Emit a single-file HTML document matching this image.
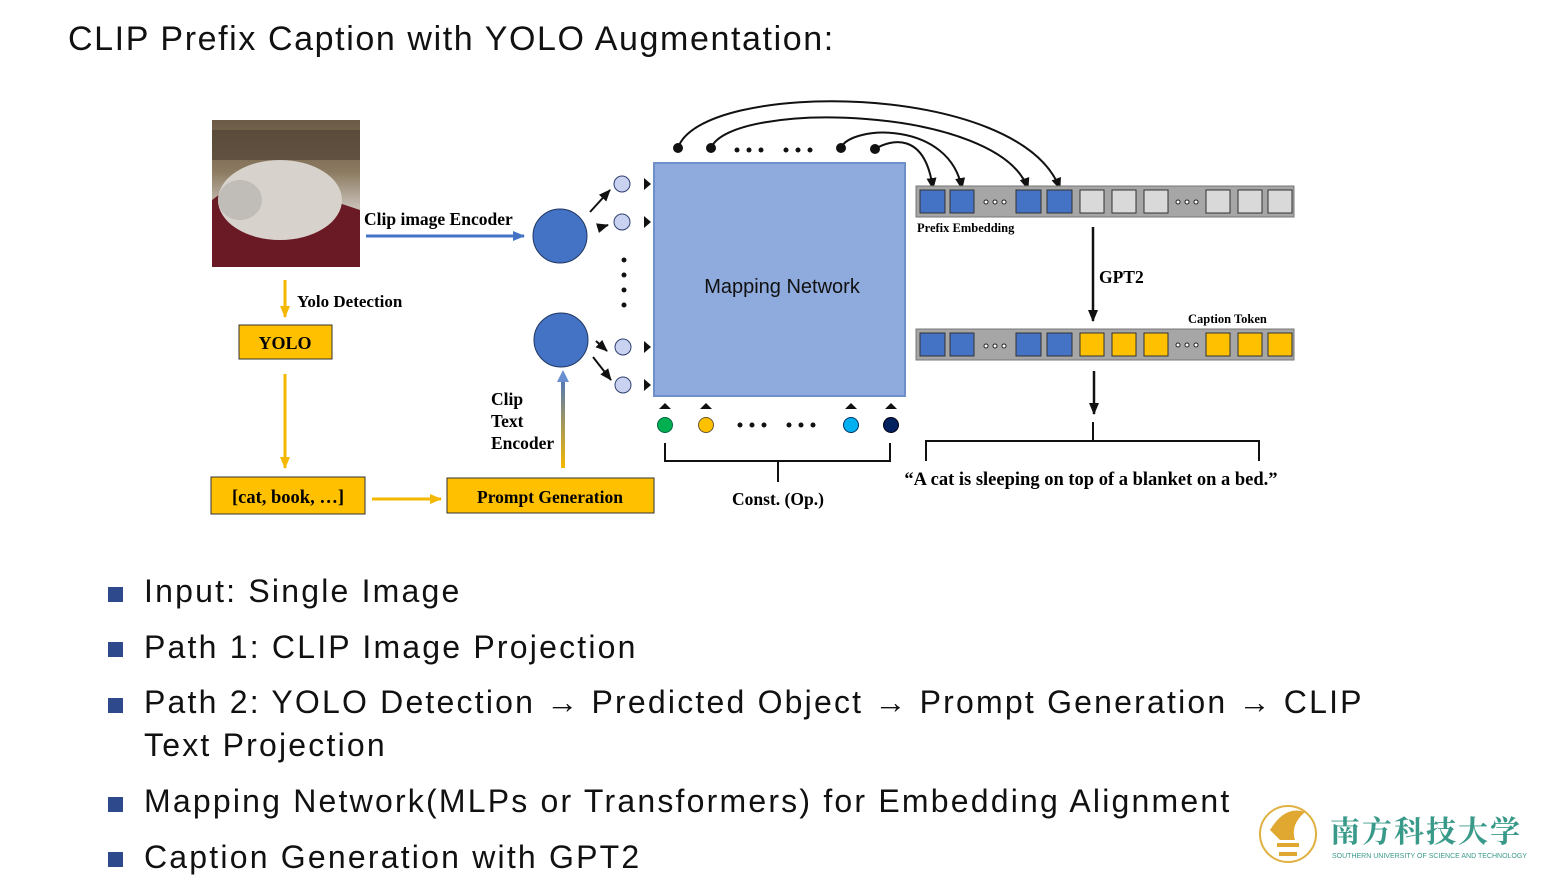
<!DOCTYPE html>
<html><head><meta charset="utf-8"><style>
body{margin:0;background:#fff;width:1549px;height:883px;overflow:hidden;position:relative;font-family:"Liberation Sans",sans-serif}
.t{position:absolute;left:68px;top:20px;font-size:34px;color:#111;letter-spacing:1.6px;word-spacing:0px}
.b{position:absolute;left:144px;font-size:32px;color:#111;line-height:43px;letter-spacing:2.2px;word-spacing:0px}
.sq{position:absolute;left:108px;width:15px;height:15px;background:#2e4a8c}
</style></head><body>
<div class="t">CLIP Prefix Caption with YOLO Augmentation:</div>
<svg width="1549" height="883" style="position:absolute;left:0;top:0" font-family="Liberation Serif,serif" font-weight="bold">
<defs>
<marker id="ab" markerUnits="userSpaceOnUse" markerWidth="12" markerHeight="12" refX="11" refY="6" orient="auto"><path d="M0,1L12,6L0,11z" fill="#111"/></marker>
<marker id="ay" markerUnits="userSpaceOnUse" markerWidth="12" markerHeight="12" refX="11" refY="6" orient="auto"><path d="M0,1L12,6L0,11z" fill="#f5b800"/></marker>
<marker id="abl" markerUnits="userSpaceOnUse" markerWidth="12" markerHeight="12" refX="11" refY="6" orient="auto"><path d="M0,1L12,6L0,11z" fill="#4472c4"/></marker>
<linearGradient id="g" gradientUnits="userSpaceOnUse" x1="0" y1="468" x2="0" y2="372"><stop offset="0" stop-color="#f5b800"/><stop offset="1" stop-color="#4472c4"/></linearGradient>
<linearGradient id="cat" x1="0" y1="0" x2="0" y2="1"><stop offset="0" stop-color="#6b5a45"/><stop offset="0.35" stop-color="#8b7a60"/><stop offset="0.6" stop-color="#c8c0b8"/><stop offset="1" stop-color="#5a1420"/></linearGradient>
</defs>
<rect x="212" y="120" width="148" height="147" fill="url(#cat)"/>
<rect x="212" y="130" width="148" height="30" fill="#4a3c30" opacity="0.6"/>
<path d="M212,200 Q250,170 300,190 L360,210 L360,267 L212,267z" fill="#6a1a24"/>
<ellipse cx="280" cy="200" rx="62" ry="40" fill="#d8d2cc"/>
<ellipse cx="240" cy="200" rx="22" ry="20" fill="#c0bcb8"/>
<text x="364" y="225" font-size="17.5">Clip image Encoder</text>
<line x1="366" y1="236" x2="524" y2="236" stroke="#4472c4" stroke-width="3" marker-end="url(#abl)"/>
<line x1="285" y1="280" x2="285" y2="317" stroke="#f5b800" stroke-width="3" marker-end="url(#ay)"/>
<text x="297" y="307" font-size="17">Yolo Detection</text>
<rect x="239" y="325" width="93" height="34" fill="#ffc000" stroke="#333"/>
<text x="285" y="349" font-size="18" text-anchor="middle">YOLO</text>
<line x1="285" y1="374" x2="285" y2="468" stroke="#f5b800" stroke-width="3" marker-end="url(#ay)"/>
<rect x="211" y="477" width="154" height="37" fill="#ffc000" stroke="#333"/>
<text x="288" y="503" font-size="18.5" text-anchor="middle">[cat, book, …]</text>
<line x1="372" y1="499" x2="441" y2="499" stroke="#f5b800" stroke-width="3" marker-end="url(#ay)"/>
<rect x="447" y="478" width="207" height="35" fill="#ffc000" stroke="#333"/>
<text x="550" y="503" font-size="17.5" text-anchor="middle">Prompt Generation</text>
<line x1="563" y1="468" x2="563" y2="378" stroke="url(#g)" stroke-width="4"/>
<path d="M557,382L563,370L569,382z" fill="#6a8fd0"/>
<text x="491" y="405" font-size="17.5">Clip</text>
<text x="491" y="427" font-size="17.5">Text</text>
<text x="491" y="449" font-size="17.5">Encoder</text>
<circle cx="560" cy="236" r="27" fill="#4472c4" stroke="#1f3864"/>
<circle cx="561" cy="340" r="27" fill="#4472c4" stroke="#1f3864"/>
<g fill="#c9d2f0" stroke="#2f3f70">
<circle cx="622" cy="184" r="8"/><circle cx="622" cy="222" r="8"/><circle cx="623" cy="347" r="8"/><circle cx="623" cy="385" r="8"/></g>
<g stroke="#111" stroke-width="2">
<line x1="590" y1="212" x2="610" y2="190" marker-end="url(#ab)"/>
<line x1="598" y1="228" x2="608" y2="225" marker-end="url(#ab)"/>
<line x1="596" y1="341" x2="607" y2="351" marker-end="url(#ab)"/>
<line x1="593" y1="357" x2="611" y2="380" marker-end="url(#ab)"/></g>
<g fill="#111"><path d="M644,178L651,184L644,190z"/><path d="M644,216L651,222L644,228z"/><path d="M644,341L651,347L644,353z"/><path d="M644,379L651,385L644,391z"/>
<circle cx="624" cy="260" r="2.5"/><circle cx="624" cy="275" r="2.5"/><circle cx="624" cy="290" r="2.5"/><circle cx="624" cy="305" r="2.5"/></g>
<rect x="654" y="163" width="251" height="233" fill="#8faadc" stroke="#6f8fc8" stroke-width="2"/>
<text x="782" y="293" font-size="20" font-family="Liberation Sans,sans-serif" font-weight="normal" text-anchor="middle" fill="#111">Mapping Network</text>
<g fill="#111"><circle cx="678" cy="148" r="5"/><circle cx="711" cy="148" r="5"/><circle cx="841" cy="148" r="5"/><circle cx="875" cy="149" r="5"/>
<circle cx="737" cy="150" r="2.5"/><circle cx="749" cy="150" r="2.5"/><circle cx="761" cy="150" r="2.5"/><circle cx="786" cy="150" r="2.5"/><circle cx="798" cy="150" r="2.5"/><circle cx="810" cy="150" r="2.5"/></g>
<g fill="none" stroke="#111" stroke-width="2">
<path d="M678,148 C700,80 1020,80 1060,189" marker-end="url(#ab)"/>
<path d="M711,148 C730,100 1000,105 1028,189" marker-end="url(#ab)"/>
<path d="M841,148 C850,125 950,120 962,189" marker-end="url(#ab)"/>
<path d="M875,149 C890,140 925,130 933,189" marker-end="url(#ab)"/></g>
<g fill="#111"><path d="M659,409L665,403L671,409z"/><path d="M700,409L706,403L712,409z"/><path d="M845,409L851,403L857,409z"/><path d="M885,409L891,403L897,409z"/>
<circle cx="740" cy="425" r="2.5"/><circle cx="752" cy="425" r="2.5"/><circle cx="764" cy="425" r="2.5"/><circle cx="789" cy="425" r="2.5"/><circle cx="801" cy="425" r="2.5"/><circle cx="813" cy="425" r="2.5"/></g>
<circle cx="665" cy="425" r="7.5" fill="#00b050" stroke="#064"/>
<circle cx="706" cy="425" r="7.5" fill="#ffc000" stroke="#653"/>
<circle cx="851" cy="425" r="7.5" fill="#00b0f0" stroke="#036"/>
<circle cx="891" cy="425" r="7.5" fill="#002060" stroke="#001"/>
<path d="M665,443 V461 H778 V482 M778,461 H890 V443" fill="none" stroke="#111" stroke-width="2"/>
<text x="778" y="505" font-size="17.5" text-anchor="middle">Const. (Op.)</text>
<rect x="916" y="186" width="378" height="31" fill="#a6a6a6" stroke="#777"/>
<rect x="916" y="329" width="378" height="31" fill="#a6a6a6" stroke="#777"/>
<g stroke="#333">
<g fill="#4472c4"><rect x="920" y="190" width="25" height="23"/><rect x="950" y="190" width="24" height="23"/><rect x="1016" y="190" width="25" height="23"/><rect x="1047" y="190" width="25" height="23"/>
<rect x="920" y="333" width="25" height="23"/><rect x="950" y="333" width="24" height="23"/><rect x="1016" y="333" width="25" height="23"/><rect x="1047" y="333" width="25" height="23"/></g>
<g fill="#d9d9d9"><rect x="1080" y="190" width="24" height="23"/><rect x="1112" y="190" width="24" height="23"/><rect x="1144" y="190" width="24" height="23"/><rect x="1206" y="190" width="24" height="23"/><rect x="1238" y="190" width="24" height="23"/><rect x="1268" y="190" width="24" height="23"/></g>
<g fill="#ffc000"><rect x="1080" y="333" width="24" height="23"/><rect x="1112" y="333" width="24" height="23"/><rect x="1144" y="333" width="24" height="23"/><rect x="1206" y="333" width="24" height="23"/><rect x="1238" y="333" width="24" height="23"/><rect x="1268" y="333" width="24" height="23"/></g></g>
<g fill="#fff" stroke="#222" stroke-width="1"><circle cx="986" cy="202" r="2"/><circle cx="995" cy="202" r="2"/><circle cx="1004" cy="202" r="2"/><circle cx="1178" cy="202" r="2"/><circle cx="1187" cy="202" r="2"/><circle cx="1196" cy="202" r="2"/>
<circle cx="986" cy="346" r="2"/><circle cx="995" cy="346" r="2"/><circle cx="1004" cy="346" r="2"/><circle cx="1178" cy="345" r="2"/><circle cx="1187" cy="345" r="2"/><circle cx="1196" cy="345" r="2"/></g>
<text x="917" y="232" font-size="12.5">Prefix Embedding</text>
<text x="1188" y="323" font-size="12.5">Caption Token</text>
<line x1="1093" y1="227" x2="1093" y2="321" stroke="#111" stroke-width="2.5" marker-end="url(#ab)"/>
<text x="1099" y="283" font-size="17.5">GPT2</text>
<line x1="1094" y1="371" x2="1094" y2="414" stroke="#111" stroke-width="2.5" marker-end="url(#ab)"/>
<path d="M926,461 V441 H1093 V422 M1093,441 H1259 V461" fill="none" stroke="#111" stroke-width="2"/>
<text x="1091" y="485" font-size="18.5" text-anchor="middle">“A cat is sleeping on top of a blanket on a bed.”</text>
<circle cx="1288" cy="834" r="28" fill="none" stroke="#e0b040" stroke-width="2"/>
<path d="M1270,830 Q1285,805 1305,812 Q1290,825 1295,840 L1280,840z" fill="#e0a830"/>
<rect x="1277" y="843" width="22" height="4" fill="#e0a830"/><rect x="1279" y="852" width="18" height="4" fill="#e0a830"/>
<text x="1330" y="842" font-size="30" fill="#3a9a8a" font-family="Noto Serif CJK SC,serif" letter-spacing="2">南方科技大学</text>
<text x="1332" y="858" font-size="7" fill="#3a9a8a" font-family="Liberation Sans,sans-serif" font-weight="normal">SOUTHERN UNIVERSITY OF SCIENCE AND TECHNOLOGY</text>
</svg>
<div class="sq" style="top:587px"></div><div class="b" style="top:570px">Input: Single Image</div>
<div class="sq" style="top:642px"></div><div class="b" style="top:626px">Path 1: CLIP Image Projection</div>
<div class="sq" style="top:698px"></div><div class="b" style="top:681px;width:1280px">Path 2: YOLO Detection → Predicted Object → Prompt Generation → CLIP Text Projection</div>
<div class="sq" style="top:797px"></div><div class="b" style="top:780px">Mapping Network(MLPs or Transformers) for Embedding Alignment</div>
<div class="sq" style="top:852px"></div><div class="b" style="top:836px">Caption Generation with GPT2</div>
</body></html>
